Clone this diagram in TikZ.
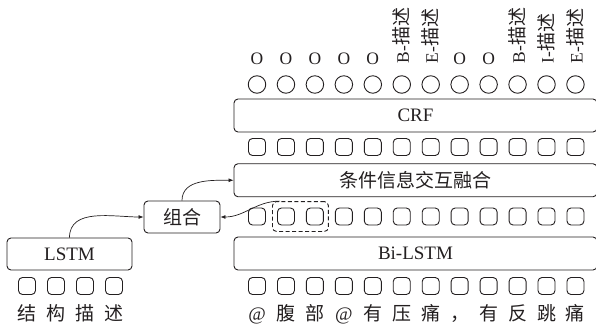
\documentclass[tikz,border=0pt]{standalone}
\usepackage{fontspec}
\setmainfont{Liberation Serif}
\newfontfamily\cjk{Noto Sans CJK SC}
\usetikzlibrary{arrows.meta,calc,fit}
\definecolor{ink}{HTML}{231F20}
\begin{document}
\begin{tikzpicture}[x=1pt,y=1pt, line width=0.9pt, color=ink, text=ink,
  bigbox/.style={draw, rounded corners=4pt, minimum height=33pt, minimum width=363pt, inner sep=0pt},
  smallbox/.style={draw, rounded corners=4pt, minimum height=32pt, inner sep=0pt},
  sq/.style={draw, rounded corners=4pt, minimum width=17pt, minimum height=17pt, inner sep=0pt},
  circ/.style={draw, circle, minimum size=17.5pt, inner sep=0pt},
  arr/.style={-{Latex[length=5pt,width=4pt]}, line width=0.7pt},
  lat/.style={font=\fontsize{19}{19}\selectfont},
  olat/.style={font=\fontsize{17.5}{17.5}\selectfont},
  zh/.style={font=\fontsize{19}{19}\selectfont\cjk},
  lab/.style={inner sep=0pt, anchor=base},
  vlab/.style={inner sep=0pt, anchor=west, rotate=90},
]
\useasboundingbox (0,0) rectangle (596,327);
% big boxes
\node[bigbox, lat] (crf) at (415.5,211.5) {CRF};
\node[bigbox, zh] (fuse) at (415.5,146.75) {条件信息交互融合};
\node[bigbox, lat] (bilstm) at (415.5,73.5) {Bi-LSTM};
\node[smallbox, lat, minimum width=125pt] (lstm) at (69.5,73) {LSTM};
\node[smallbox, zh, minimum width=76pt] (zuhe) at (182,110) {组合};
% columns
\foreach \i in {0,...,11}{
  \pgfmathsetmacro\cx{257+28.95*\i}
  \node[circ] (c\i) at (\cx,242.5) {};
  \node[sq] (r\i) at (\cx,180) {};
  \node[sq] (m\i) at (\cx,110.5) {};
  \node[sq] (b\i) at (\cx,41) {};
}
% top labels
\foreach \i in {0,1,2,3,4,7,8}{
  \pgfmathsetmacro\cx{257+28.95*\i}
  \node[lab, olat] (o\i) at (\cx,262.5) {O};
}
\foreach \i/\t in {5/B,6/E,9/B,10/I,11/E}{
  \pgfmathsetmacro\cx{257+28.95*\i}
  \node[vlab, olat] (v\i) at (\cx,263.5) {\t-{\fontsize{19}{19}\selectfont\cjk 描述}};
}
% bottom text
\foreach \i/\t/\f in {0/@/lat,1/腹/zh,2/部/zh,3/@/lat,4/有/zh,5/压/zh,6/痛/zh,7/，/zh,8/有/zh,9/反/zh,10/跳/zh,11/痛/zh}{
  \pgfmathsetmacro\cx{257+28.95*\i}
  \node[lab, \f] (w\i) at (\cx,6.5) {\t};
}
% left side
\foreach \i/\t in {0/结,1/构,2/描,3/述}{
  \pgfmathsetmacro\cx{27+29*\i}
  \node[sq] (ls\i) at (\cx,41) {};
  \node[lab, zh] (lw\i) at (\cx,6.5) {\t};
}
% dashed group
\node[draw, dashed, dash pattern=on 4pt off 2.5pt, rounded corners=4pt, fit=(m1)(m2), inner xsep=4.5pt, inner ysep=6pt] (grp) {};
\coordinate (gs) at ($(grp.north west)+(8,0)$);
% arrows
\draw[arr] (lstm.north) to[out=90,in=180] (zuhe.west);
\draw[arr] (zuhe.north) to[out=90,in=180] (fuse.west);
\draw[arr] (gs) to[out=180,in=0] (zuhe.east);
\end{tikzpicture}
\end{document}
